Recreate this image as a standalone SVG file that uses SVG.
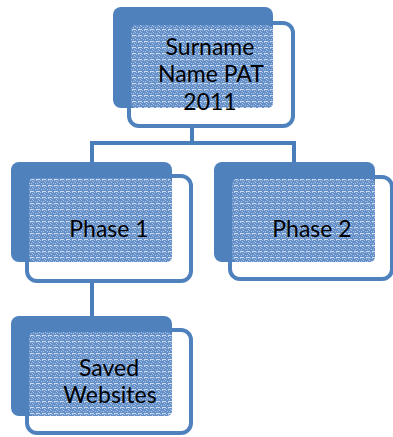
<svg xmlns="http://www.w3.org/2000/svg" width="393" height="437" viewBox="0 0 393 437">
  <defs>
    <!-- light dotted texture with faint dashed rules -->
    <pattern id="tex" width="6" height="6" patternUnits="userSpaceOnUse">
      <rect width="6" height="6" fill="#6590c8"/>
      <rect x="0" y="0" width="1" height="1" fill="#a9c1e4"/>
      <rect x="2" y="1" width="1" height="1" fill="#a9c1e4"/>
      <rect x="4" y="0" width="1" height="1" fill="#a9c1e4"/>
      <rect x="1" y="3" width="1" height="1" fill="#a9c1e4"/>
      <rect x="3" y="2" width="1" height="1" fill="#a9c1e4"/>
      <rect x="5" y="3" width="1" height="1" fill="#a9c1e4"/>
      <rect x="0" y="5" width="4" height="0.8" fill="#e6eef9"/>
    </pattern>
    <style>
      .frame { fill: #ffffff; stroke: #4f81bd; stroke-width: 4; }
      .solid { fill: #4f81bd; }
      .tex { fill: url(#tex); }
      .lbl { font-family: Lato, "Liberation Sans", Arial, sans-serif; font-size: 23px; fill: #000000; text-anchor: middle; }
      .link { fill: none; stroke: #4a7ebb; stroke-width: 4; }
      .linkTex { fill: none; stroke: url(#tex); stroke-width: 4; }
    </style>
  </defs>

  <g id="connectors">
    <path class="link" d="M192,126 V143 H92 V164 M192,143 H294 V164"/>
    <path class="linkTex" d="M192,110 V126"/>
    <path class="link" d="M92,281 V318"/>
    <path class="linkTex" d="M92,264 V281"/>
  </g>

  <g id="node-root">
    <rect class="frame" x="129" y="23" width="164" height="103" rx="10"/>
    <rect class="solid" x="113" y="7" width="160" height="101" rx="8"/>
    <rect class="tex" x="131" y="25" width="142" height="83" rx="5"/>
    <text class="lbl" x="210" y="55">Surname</text>
    <text class="lbl" x="211" y="82">Name PAT</text>
    <text class="lbl" x="210" y="110">2011</text>
  </g>

  <g id="node-phase1">
    <rect class="frame" x="27" y="176" width="164" height="105" rx="10"/>
    <rect class="solid" x="11" y="162" width="161" height="100" rx="8"/>
    <rect class="tex" x="29" y="178" width="143" height="84" rx="5"/>
    <text class="lbl" x="109" y="237">Phase 1</text>
  </g>

  <g id="node-phase2">
    <rect class="frame" x="230" y="177" width="162" height="102" rx="10"/>
    <rect class="solid" x="214" y="162" width="161" height="100" rx="8"/>
    <rect class="tex" x="232" y="179" width="143" height="83" rx="5"/>
    <text class="lbl" x="312" y="237">Phase 2</text>
  </g>

  <g id="node-saved">
    <rect class="frame" x="27" y="330" width="164" height="103" rx="10"/>
    <rect class="solid" x="11" y="316" width="161" height="100" rx="8"/>
    <rect class="tex" x="29" y="332" width="143" height="84" rx="5"/>
    <text class="lbl" x="109" y="376">Saved</text>
    <text class="lbl" x="110" y="403">Websites</text>
  </g>
</svg>
